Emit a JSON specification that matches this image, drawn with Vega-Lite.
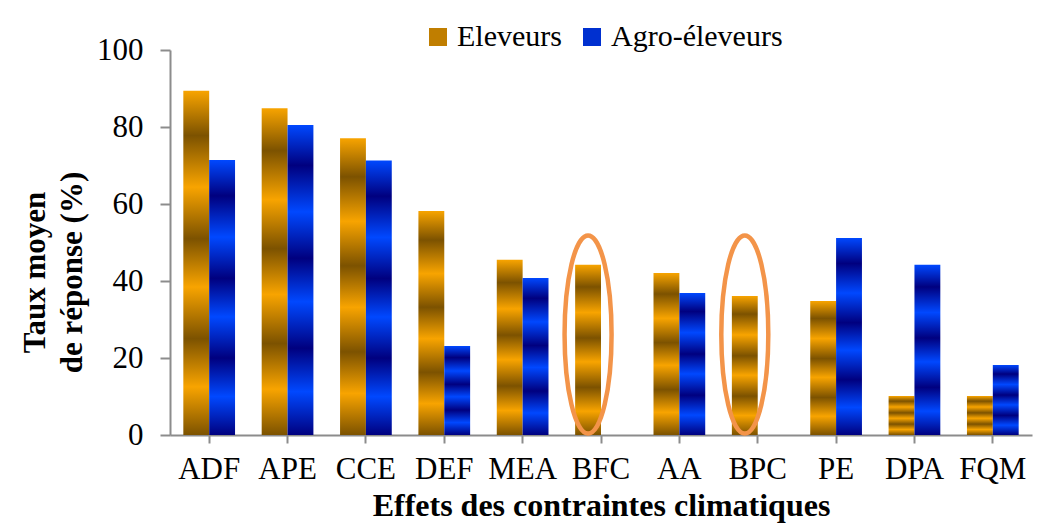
{
  "$schema": "https://vega.github.io/schema/vega-lite/v6.json",
  "width": 862,
  "height": 385,
  "autosize": {"type": "none"},
  "padding": {"left": 170, "top": 50, "right": 24, "bottom": 94},
  "background": "white",
  "config": {
    "view": {"stroke": null},
    "font": "Liberation Serif",
    "axis": {
      "labelFont": "Liberation Serif",
      "titleFont": "Liberation Serif",
      "labelColor": "black",
      "titleColor": "black",
      "domainColor": "#8C8C8C",
      "tickColor": "#8C8C8C",
      "domainWidth": 2,
      "tickWidth": 2,
      "grid": false
    },
    "legend": {
      "labelFont": "Liberation Serif",
      "labelFontSize": 30,
      "labelLimit": 400
    }
  },
  "datasets": {
    "taux": [
      {"effet": "ADF", "groupe": "Eleveurs", "taux": 89.4},
      {"effet": "ADF", "groupe": "Agro-éleveurs", "taux": 71.4},
      {"effet": "APE", "groupe": "Eleveurs", "taux": 84.9},
      {"effet": "APE", "groupe": "Agro-éleveurs", "taux": 80.5},
      {"effet": "CCE", "groupe": "Eleveurs", "taux": 77.1},
      {"effet": "CCE", "groupe": "Agro-éleveurs", "taux": 71.3},
      {"effet": "DEF", "groupe": "Eleveurs", "taux": 58.2},
      {"effet": "DEF", "groupe": "Agro-éleveurs", "taux": 23.1},
      {"effet": "MEA", "groupe": "Eleveurs", "taux": 45.5},
      {"effet": "MEA", "groupe": "Agro-éleveurs", "taux": 40.8},
      {"effet": "BFC", "groupe": "Eleveurs", "taux": 44.2},
      {"effet": "AA", "groupe": "Eleveurs", "taux": 42.1},
      {"effet": "AA", "groupe": "Agro-éleveurs", "taux": 36.9},
      {"effet": "BPC", "groupe": "Eleveurs", "taux": 36.1},
      {"effet": "PE", "groupe": "Eleveurs", "taux": 34.8},
      {"effet": "PE", "groupe": "Agro-éleveurs", "taux": 51.2},
      {"effet": "DPA", "groupe": "Eleveurs", "taux": 10.1},
      {"effet": "DPA", "groupe": "Agro-éleveurs", "taux": 44.2},
      {"effet": "FQM", "groupe": "Eleveurs", "taux": 10.1},
      {"effet": "FQM", "groupe": "Agro-éleveurs", "taux": 18.2}
    ],
    "cercles": [
      {"effet": "BFC", "groupe": "Eleveurs", "taux": 26.1},
      {"effet": "BPC", "groupe": "Eleveurs", "taux": 26.1}
    ]
  },
  "encoding": {
    "x": {
      "field": "effet",
      "type": "nominal",
      "sort": ["ADF", "APE", "CCE", "DEF", "MEA", "BFC", "AA", "BPC", "PE", "DPA", "FQM"],
      "scale": {"paddingInner": 0.34, "paddingOuter": 0.17},
      "axis": {
        "title": "Effets des contraintes climatiques",
        "labelAngle": 0,
        "labelFontSize": 31,
        "titleFontSize": 32,
        "titleFontWeight": "bold",
        "tickSize": 8,
        "labelPadding": 11,
        "titlePadding": 6
      }
    },
    "xOffset": {
      "field": "groupe",
      "type": "nominal",
      "scale": {"domain": ["Eleveurs", "Agro-éleveurs"], "paddingInner": 0, "paddingOuter": 0}
    },
    "y": {
      "field": "taux",
      "type": "quantitative",
      "scale": {"domain": [0, 100], "nice": false},
      "axis": {
        "title": ["Taux moyen", "de réponse (%)"],
        "values": [0, 20, 40, 60, 80, 100],
        "labelFontSize": 31,
        "titleFontSize": 31,
        "titleFontWeight": "bold",
        "titleLineHeight": 37,
        "tickSize": 10,
        "labelPadding": 17,
        "titlePadding": 8,
        "titleY": 222
      }
    }
  },
  "layer": [
    {
      "data": {"name": "taux"},
      "transform": [{"filter": "datum.groupe === 'Eleveurs'"}],
      "mark": {
        "type": "bar",
        "color": {"gradient": "linear", "x1": 0, "y1": 0, "x2": 0, "y2": 1, "stops": [
          {"offset": 0, "color": "#F8A400"}, {"offset": 0.13, "color": "#7C5200"},
          {"offset": 0.28, "color": "#F8A400"}, {"offset": 0.43, "color": "#7C5200"},
          {"offset": 0.57, "color": "#F8A400"}, {"offset": 0.72, "color": "#7C5200"},
          {"offset": 0.86, "color": "#F8A400"}, {"offset": 1, "color": "#7C5200"}]}
      }
    },
    {
      "data": {"name": "taux"},
      "transform": [{"filter": "datum.groupe === 'Agro-éleveurs'"}],
      "mark": {
        "type": "bar",
        "color": {"gradient": "linear", "x1": 0, "y1": 0, "x2": 0, "y2": 1, "stops": [
          {"offset": 0, "color": "#0048FF"}, {"offset": 0.13, "color": "#00007F"},
          {"offset": 0.28, "color": "#0048FF"}, {"offset": 0.43, "color": "#00007F"},
          {"offset": 0.57, "color": "#0048FF"}, {"offset": 0.72, "color": "#00007F"},
          {"offset": 0.86, "color": "#0048FF"}, {"offset": 1, "color": "#00007F"}]}
      }
    },
    {
      "data": {"name": "cercles"},
      "mark": {
        "type": "point",
        "shape": "M0,-1C0.1311,-1,0.2374,-0.5523,0.2374,0C0.2374,0.5523,0.1311,1,0,1C-0.1311,1,-0.2374,0.5523,-0.2374,0C-0.2374,-0.5523,-0.1311,-1,0,-1Z",
        "size": 39204,
        "filled": false,
        "stroke": "#F39449",
        "strokeWidth": 4.5,
        "opacity": 1
      }
    },
    {
      "data": {"name": "taux"},
      "mark": {"type": "square", "opacity": 0},
      "encoding": {
        "color": {
          "field": "groupe",
          "type": "nominal",
          "scale": {"domain": ["Eleveurs", "Agro-éleveurs"], "range": ["#C07E00", "#0030D0"]},
          "legend": {
            "title": null,
            "orient": "none",
            "legendX": 253,
            "legendY": -28,
            "direction": "horizontal",
            "symbolType": "square",
            "symbolSize": 324,
            "symbolStrokeWidth": 0,
            "symbolOpacity": 1,
            "labelFont": "Liberation Serif",
            "labelFontSize": 30,
            "labelLimit": 400,
            "labelColor": "black",
            "labelOffset": 4,
            "columnPadding": 15,
            "encode": {
              "symbols": {
                "update": {
                  "opacity": {"value": 1},
                  "fill": [
                    {"test": "datum.value === 'Eleveurs'", "value": {"gradient": "linear", "x1": 0, "y1": 0, "x2": 0, "y2": 1, "stops": [
                      {"offset": 0, "color": "#F8A400"}, {"offset": 0.2, "color": "#7C5200"},
                      {"offset": 0.4, "color": "#F8A400"}, {"offset": 0.6, "color": "#7C5200"},
                      {"offset": 0.8, "color": "#F8A400"}, {"offset": 1, "color": "#7C5200"}]}},
                    {"value": {"gradient": "linear", "x1": 0, "y1": 0, "x2": 0, "y2": 1, "stops": [
                      {"offset": 0, "color": "#0048FF"}, {"offset": 0.2, "color": "#00007F"},
                      {"offset": 0.4, "color": "#0048FF"}, {"offset": 0.6, "color": "#00007F"},
                      {"offset": 0.8, "color": "#0048FF"}, {"offset": 1, "color": "#00007F"}]}}
                  ]
                }
              }
            }
          }
        }
      }
    }
  ]
}
